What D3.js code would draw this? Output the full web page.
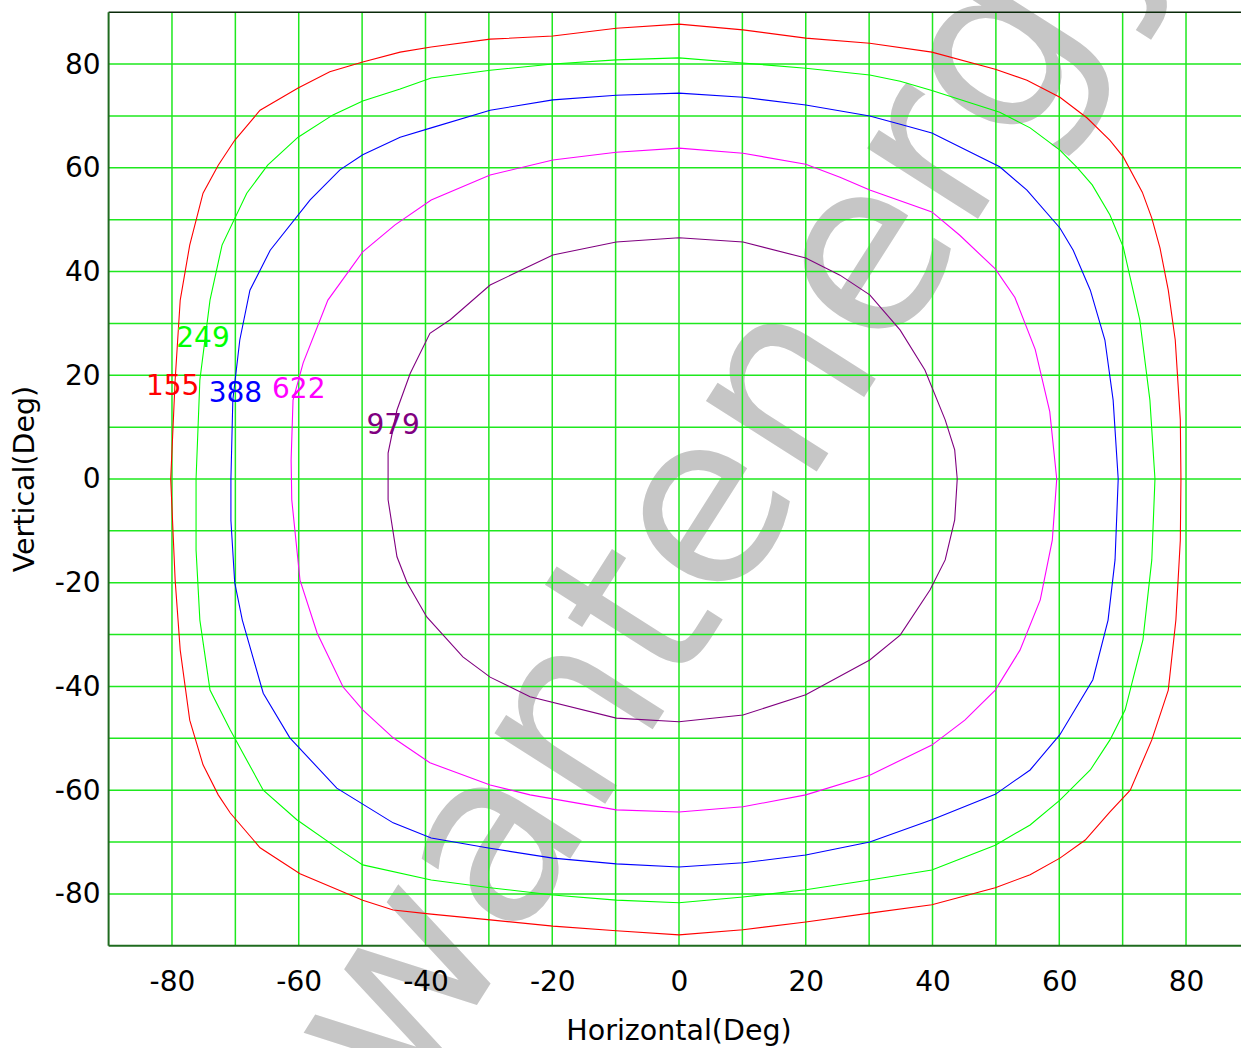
<!DOCTYPE html>
<html>
<head>
<meta charset="utf-8">
<script src="https://cdn.jsdelivr.net/npm/d3@7"></script>
<style>
  html, body { margin: 0; padding: 0; background: #fff; overflow: hidden; }
  svg { display: block; }
  text { font-family: "DejaVu Sans", Verdana, sans-serif; }
</style>
</head>
<body>
<svg id="chart" width="1241" height="1048"></svg>
<script>
// ---- data ----
const xTicks = [-80, -60, -40, -20, 0, 20, 40, 60, 80];
const yTicks = [-80, -60, -40, -20, 0, 20, 40, 60, 80];
const gridValues = [-80, -70, -60, -50, -40, -30, -20, -10, 0, 10, 20, 30, 40, 50, 60, 70, 80];

const contourNames = ["155", "249", "388", "622", "979"];
const contourColors = ["#ff0000", "#00ff00", "#0000ff", "#ff00ff", "#800080"];

const contour155 = [[0,87.7],[10.1,86.6],[20,85],[30.1,84],[39.9,82.3],[49.9,79],[54.9,76.9],[60.1,73.6],[64.4,69.6],[68,65.3],[70.1,62.1],[73.1,55.3],[74.6,50.3],[75.9,44.5],[77.2,36.4],[78.3,26.8],[79.1,11.4],[79.2,0],[79.1,-11.8],[78.4,-27.2],[77.2,-40.7],[74.6,-50.3],[71.2,-60],[68,-64.2],[64.1,-69.6],[60.1,-73.1],[55.4,-76.3],[49.9,-78.8],[39.9,-82.1],[30.1,-83.7],[20,-85.4],[10.1,-86.9],[0,-87.9],[-9.9,-87.1],[-19.9,-86.2],[-29.8,-85],[-39.1,-83.9],[-45.1,-83.1],[-49.9,-81.2],[-59.8,-76.1],[-66.1,-71.1],[-70.8,-64.4],[-72.7,-60.9],[-75.1,-55.1],[-77.2,-46.5],[-78.7,-33],[-79.5,-19.5],[-80.2,0],[-79.5,19.1],[-78.7,34.5],[-77.2,45.1],[-75.1,55.1],[-72.7,60.5],[-70.1,65.3],[-66.1,71.1],[-60.1,75.4],[-55.1,78.5],[-49.9,80.4],[-44,82.3],[-39.1,83.3],[-29.8,84.8],[-19.9,85.4],[-9.9,86.9]];
const contour249 = [[0,81.2],[10.1,80.2],[20,79.2],[30.1,77.9],[34.9,76.7],[39.9,74.9],[50.6,70.7],[55.4,67.7],[60.1,63.4],[62.8,60.1],[65.2,56.7],[68,50.9],[70.1,44.7],[72.7,30.7],[74.3,15.2],[75.1,0],[74.6,-15.6],[73.2,-31],[70.4,-44.5],[68,-50.3],[64.9,-56.1],[60.1,-61.9],[55.4,-66.7],[49.9,-70.6],[39.9,-75.4],[30.1,-77.3],[20,-79.2],[10.1,-80.6],[0,-81.7],[-9.9,-81.2],[-19.9,-80.2],[-29.8,-78.8],[-39.1,-77.3],[-49.9,-74.4],[-53.5,-71.5],[-60.3,-65.7],[-65.6,-60],[-70.8,-48.4],[-74,-40.7],[-75.6,-27.2],[-76.2,-13.7],[-76.2,0],[-75.6,19.1],[-74,34.5],[-72.1,45.1],[-68.2,55.1],[-64.9,60.5],[-60.1,65.9],[-54.6,70.2],[-49.9,72.9],[-44,75.2],[-39.1,77.3],[-29.8,78.8],[-19.9,80],[-9.9,80.8]];
const contour388 = [[0,74.4],[10.1,73.6],[20,72.1],[30.1,70],[34.9,68.4],[39.9,66.7],[50.6,60.2],[54.9,55.7],[60.1,48.4],[62.2,44.1],[64.9,36.4],[67.2,26.8],[68.5,15.2],[69.3,0],[68.8,-15.6],[67.7,-27.2],[65.3,-38.7],[60.1,-49.3],[55.4,-56.1],[49.9,-60.8],[39.9,-65.7],[30.1,-70],[20,-72.5],[10.1,-74],[0,-74.8],[-9.9,-74.2],[-19.9,-73.1],[-30.3,-71.1],[-39.1,-69.2],[-45.1,-66.3],[-54,-59.6],[-61.4,-49.9],[-65.6,-41.3],[-68.9,-27.2],[-70.1,-20],[-70.7,-8],[-70.7,0],[-70.4,15.2],[-69.3,26.8],[-67.7,36.4],[-64.5,44.1],[-58.2,53.8],[-53.5,59.6],[-49.9,62.5],[-44,65.9],[-39.1,67.7],[-29.8,71.1],[-19.9,73.1],[-9.9,74]];
const contour622 = [[0,63.8],[10.1,62.8],[20,60.7],[25.4,58.2],[30.1,55.7],[39.9,51.5],[44.3,47],[49.9,40.5],[53,35],[56.2,25],[58.5,13],[59.6,0],[58.9,-11.8],[57,-23.3],[53.8,-33],[49.9,-40.7],[45.1,-46.5],[39.9,-51.3],[30.1,-57.1],[20,-60.9],[10.1,-63.2],[0,-64.2],[-9.9,-63.8],[-23.5,-60.9],[-29.8,-59],[-39.3,-54.7],[-45.1,-49.9],[-49.9,-44.5],[-53,-40.1],[-57.1,-29.7],[-59.8,-19.5],[-61.1,-4],[-61.2,3.7],[-60.9,15.2],[-59.3,22.4],[-55.4,34.5],[-49.9,43.8],[-44.8,49],[-39.1,53.8],[-29.8,58.6],[-19.9,61.5],[-9.9,63]];
const contour979 = [[0,46.5],[10.1,45.7],[20,42.6],[25.4,39.3],[30.1,35.5],[34.9,28.7],[38.8,21],[42,11.4],[43.5,5.6],[43.9,0],[43.5,-7.9],[42,-15.6],[39.6,-21.4],[34.9,-30.1],[30.1,-34.9],[20,-41.6],[10.1,-45.5],[0,-46.8],[-9.9,-46.1],[-23.5,-42],[-29.8,-38.2],[-34.1,-34.3],[-39.8,-26.6],[-42.9,-20],[-44.5,-15],[-45.9,-4],[-45.9,5],[-44.5,13.3],[-42.4,20.4],[-39.3,28.1],[-36.1,30.7],[-29.8,37.4],[-19.9,43.2],[-9.9,45.7]];
const contours = [contour155, contour249, contour388, contour622, contour979];

// label anchor positions (data coords: horizontal, vertical)
const labelH = [-79.9, -75.1, -70.0, -60.0, -45.1];
const labelV = [16.2, 25.4, 14.8, 15.6, 8.7];

const watermarkText = "wantenergy";

// ---- layout ----
const svg = d3.select("#chart");
const x = d3.scaleLinear().domain([-90, 90]).range([108.6, 1249.4]);
const y = d3.scaleLinear().domain([-90, 90]).range([945.8, 12.2]);

// watermark (behind everything)
svg.append("text")
  .attr("transform", "translate(722,466) rotate(-57.5)")
  .attr("text-anchor", "middle")
  .attr("dominant-baseline", "central")
  .attr("fill", "#c6c6c6")
  .style("font-size", "240px")
  .text(watermarkText);

svg.append("clipPath").attr("id", "plotclip")
  .append("rect").attr("x", x(-90)).attr("y", y(90))
  .attr("width", x(90) - x(-90)).attr("height", y(-90) - y(90));

const plot = svg.append("g").attr("clip-path", "url(#plotclip)");

// grid
plot.append("g").selectAll("line").data(gridValues).join("line")
  .attr("x1", d => x(d)).attr("x2", d => x(d))
  .attr("y1", y(90)).attr("y2", y(-90))
  .attr("stroke", "#1ee81e").attr("stroke-width", 1.5);
plot.append("g").selectAll("line").data(gridValues).join("line")
  .attr("y1", d => y(d)).attr("y2", d => y(d))
  .attr("x1", x(-90)).attr("x2", x(90))
  .attr("stroke", "#1ee81e").attr("stroke-width", 1.5);

// contours
const line = d3.line().x(d => x(d[0])).y(d => y(d[1])).curve(d3.curveLinearClosed);
plot.append("g").selectAll("path").data(contours).join("path")
  .attr("d", d => line(d))
  .attr("fill", "none")
  .attr("stroke", (d, i) => contourColors[i])
  .attr("stroke-width", 1.1);

// frame
svg.append("line").attr("x1", x(-90)).attr("x2", 1241).attr("y1", y(90)).attr("y2", y(90))
  .attr("stroke", "#0a2a0a").attr("stroke-width", 1.5);
svg.append("line").attr("x1", x(-90)).attr("x2", 1241).attr("y1", y(-90)).attr("y2", y(-90))
  .attr("stroke", "#1f6b1f").attr("stroke-width", 2);
svg.append("line").attr("x1", x(-90)).attr("x2", x(-90)).attr("y1", y(90)).attr("y2", y(-90))
  .attr("stroke", "#1f6b1f").attr("stroke-width", 2);

// axes labels via d3 axes (no tick lines)
const fmt = d => String(d);
const xAxis = d3.axisBottom(x).tickValues(xTicks).tickSize(0).tickPadding(25).tickFormat(fmt);
const gx = svg.append("g").attr("transform", `translate(0,${y(-90)})`).call(xAxis);
gx.select(".domain").remove();
gx.selectAll("text").style("font-size", "28px").attr("fill", "#000")
  .style("font-family", "'DejaVu Sans', sans-serif");

const yAxis = d3.axisLeft(y).tickValues(yTicks).tickSize(0).tickPadding(8).tickFormat(fmt);
const gy = svg.append("g").attr("transform", `translate(${x(-90)},0)`).call(yAxis);
gy.select(".domain").remove();
gy.selectAll("text").style("font-size", "28px").attr("fill", "#000")
  .style("font-family", "'DejaVu Sans', sans-serif");

// axis titles
svg.append("text").attr("x", x(0)).attr("y", 1040)
  .attr("text-anchor", "middle").style("font-size", "28.5px").attr("fill", "#000")
  .text("Horizontal(Deg)");
svg.append("text").attr("transform", `translate(34,${y(0)}) rotate(-90)`)
  .attr("text-anchor", "middle").style("font-size", "28.5px").attr("fill", "#000")
  .text("Vertical(Deg)");

// contour labels
svg.append("g").selectAll("text").data(contourNames).join("text")
  .attr("x", (d, i) => x(labelH[i])).attr("y", (d, i) => y(labelV[i]))
  .attr("text-anchor", "middle")
  .attr("fill", (d, i) => contourColors[i])
  .style("font-size", "28px")
  .text(d => d);
</script>
</body>
</html>
